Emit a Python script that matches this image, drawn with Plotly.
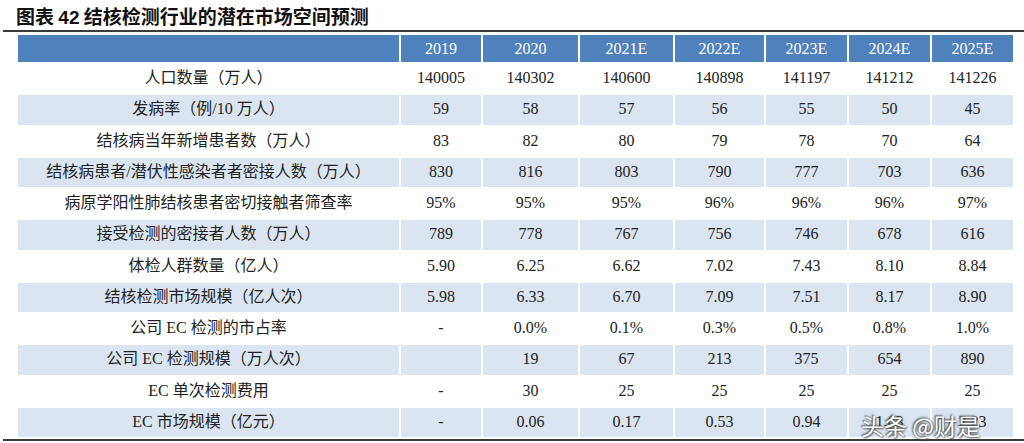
import plotly.graph_objects as go

W, H = 1024, 443

title_text = "图表 <span style='font-family:Liberation Sans'>42</span> 结核检测行业的潜在市场空间预测"

years = ["2019", "2020", "2021E", "2022E", "2023E", "2024E", "2025E"]

row_labels = [
    "人口数量（万人）",
    "发病率（例/10 万人）",
    "结核病当年新增患者数（万人）",
    "结核病患者/潜伏性感染者者密接人数（万人）",
    "病原学阳性肺结核患者密切接触者筛查率",
    "接受检测的密接者人数（万人）",
    "体检人群数量（亿人）",
    "结核检测市场规模（亿人次）",
    "公司 EC 检测的市占率",
    "公司 EC 检测规模（万人次）",
    "EC 单次检测费用",
    "EC 市场规模（亿元）",
]

population = ["140005", "140302", "140600", "140898", "141197", "141212", "141226"]
incidence = ["59", "58", "57", "56", "55", "50", "45"]
new_patients = ["83", "82", "80", "79", "78", "70", "64"]
contacts = ["830", "816", "803", "790", "777", "703", "636"]
screening_rate = ["95%", "95%", "95%", "96%", "96%", "96%", "97%"]
tested_contacts = ["789", "778", "767", "756", "746", "678", "616"]
checkup_pop = ["5.90", "6.25", "6.62", "7.02", "7.43", "8.10", "8.84"]
tb_test_market = ["5.98", "6.33", "6.70", "7.09", "7.51", "8.17", "8.90"]
ec_share = ["-", "0.0%", "0.1%", "0.3%", "0.5%", "0.8%", "1.0%"]
ec_volume = ["", "19", "67", "213", "375", "654", "890"]
ec_unit_cost = ["-", "30", "25", "25", "25", "25", "25"]
ec_market = ["-", "0.06", "0.17", "0.53", "0.94", "1.63", "2.23"]

rows = [population, incidence, new_patients, contacts, screening_rate,
        tested_contacts, checkup_pop, tb_test_market, ec_share, ec_volume,
        ec_unit_cost, ec_market]

# columns of the table
columns = [row_labels] + [[r[i] for r in rows] for i in range(len(years))]

HEADER_BLUE = "#4F81BD"
LIGHT_BLUE = "#DBE5F1"
row_fill = ["white" if i % 2 == 0 else LIGHT_BLUE for i in range(len(row_labels))]

# pixel layout
x0, x1 = 17, 1014
y_top, y_bot = 34, 440
col_edges = [17, 400, 482, 579, 674, 765, 848, 931, 1014]
col_widths = [col_edges[i + 1] - col_edges[i] for i in range(len(col_edges) - 1)]

font_family = "Liberation Serif, Noto Sans CJK SC, serif"

fig = go.Figure(go.Table(
    domain=dict(x=[x0 / W, x1 / W], y=[1 - y_bot / H, 1 - y_top / H]),
    columnwidth=col_widths,
    header=dict(
        values=[""] + years,
        fill_color=HEADER_BLUE,
        line=dict(color="white", width=2),
        font=dict(family=font_family, size=16, color="white"),
        align="center",
        height=29,
    ),
    cells=dict(
        values=columns,
        fill_color=[row_fill] * len(columns),
        line=dict(color="white", width=2),
        font=dict(family=font_family, size=16, color="#222222"),
        align="center",
        height=31.25,
    ),
))

def px_x(v):
    return v / W

def px_y(v):
    return 1 - v / H

fig.update_layout(
    width=W, height=H,
    margin=dict(l=0, r=0, t=0, b=0),
    paper_bgcolor="white",
    plot_bgcolor="white",
    shapes=[
        dict(type="line", xref="paper", yref="paper",
             x0=px_x(3), x1=px_x(1024), y0=px_y(31), y1=px_y(31),
             line=dict(color="#3a3a3a", width=2)),
        dict(type="line", xref="paper", yref="paper",
             x0=px_x(3), x1=px_x(1024), y0=px_y(440), y1=px_y(440),
             line=dict(color="#3a3a3a", width=2)),
    ],
    annotations=[
        dict(text="<b>" + title_text + "</b>", xref="paper", yref="paper",
             x=px_x(14), y=px_y(15), xanchor="left", yanchor="middle",
             showarrow=False,
             font=dict(family="Noto Sans CJK SC", size=19, color="#111111")),
        dict(text="头条 @财是", xref="paper", yref="paper",
             x=px_x(920), y=px_y(425), xanchor="center", yanchor="middle",
             showarrow=False,
             font=dict(family="Noto Sans CJK SC", size=23, color="white",
                       shadow="1px 1px 2px #444, -1px -1px 2px #444")),
    ],
)

fig.write_html("out.html",
               config={"displayModeBar": False},
               post_script="document.body.style.margin='0';document.body.style.padding='0';")
